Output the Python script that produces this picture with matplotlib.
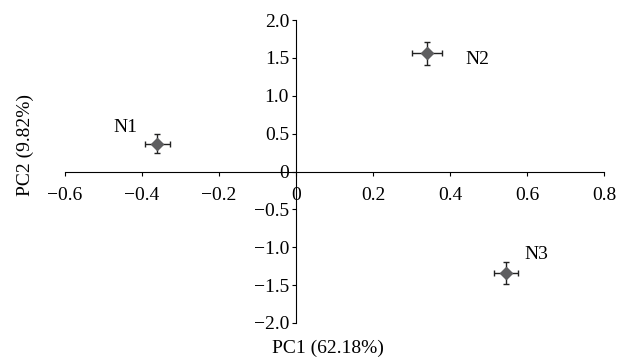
import matplotlib.pyplot as plt

plt.rcParams['font.family'] = ['Liberation Serif', 'DejaVu Serif']

# PCA scores for the three samples
samples = ["N1", "N2", "N3"]
pc1 = [-0.36, 0.34, 0.545]
pc2 = [0.37, 1.56, -1.34]
pc1_err = [0.032, 0.04, 0.032]
pc2_err = [0.13, 0.15, 0.14]

x_ticks = [-0.6, -0.4, -0.2, 0, 0.2, 0.4, 0.6, 0.8]
x_labels = ["\u22120.6", "\u22120.4", "\u22120.2", "0", "0.2", "0.4", "0.6", "0.8"]
y_ticks = [-2.0, -1.5, -1.0, -0.5, 0, 0.5, 1.0, 1.5, 2.0]
y_labels = ["\u22122.0", "\u22121.5", "\u22121.0", "\u22120.5", "0", "0.5", "1.0", "1.5", "2.0"]

fig = plt.figure(figsize=(6.28, 3.59), dpi=100)
ax = fig.add_axes([0.1035, 0.1003, 0.8583, 0.8437])

ax.errorbar(pc1, pc2, xerr=pc1_err, yerr=pc2_err, fmt="D", color="#5e5e60",
            markersize=6.5, ecolor="#222222", elinewidth=1, capsize=2.5, capthick=1)

# sample labels, offset from each point
offsets = {"N1": (-0.115, 0.21), "N2": (0.10, -0.08), "N3": (0.048, 0.25)}
for name, x, y in zip(samples, pc1, pc2):
    dx, dy = offsets[name]
    ax.text(x + dx, y + dy, name, fontsize=14, ha="left", va="center")

ax.set_xlim(-0.6, 0.8)
ax.set_ylim(-2.0, 2.0)

ax.spines["left"].set_position(("data", 0))
ax.spines["bottom"].set_position(("data", 0))
ax.spines["right"].set_visible(False)
ax.spines["top"].set_visible(False)

ax.set_xticks(x_ticks)
ax.set_xticklabels(x_labels)
ax.set_yticks(y_ticks)
ax.set_yticklabels(y_labels)
ax.tick_params(axis="x", direction="out", length=3, labelsize=14, pad=8)
ax.tick_params(axis="y", direction="out", length=3, labelsize=14, pad=2)

fig.text(0.522, 0.031, "PC1 (62.18%)", ha="center", va="center", fontsize=14)
fig.text(0.04, 0.595, "PC2 (9.82%)", ha="center", va="center", rotation=90, fontsize=14)

fig.savefig("out.png", dpi=100)
